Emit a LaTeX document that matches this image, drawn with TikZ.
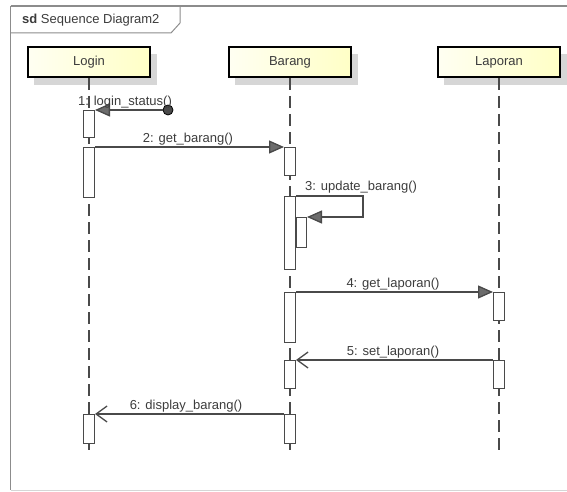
\documentclass[tikz,border=0pt]{standalone}
\usepackage{fontspec}
\setmainfont{Liberation Sans}
\usetikzlibrary{arrows.meta}
\definecolor{ln}{HTML}{4A4A4A}
\definecolor{txt}{HTML}{3C3C3C}
\definecolor{frm}{HTML}{8C8C8C}
\definecolor{shd}{HTML}{D6D6D6}
\definecolor{hdl}{HTML}{FFFFF2}
\definecolor{hdr}{HTML}{FFFFC6}
\begin{document}
\begin{tikzpicture}[x=1pt,y=-1pt,
  font=\fontsize{13}{15}\selectfont,
  head/.style={draw=black, line width=2pt, minimum width=122pt, minimum height=30pt,
    left color=hdl, right color=hdr, inner sep=0pt, text=txt},
  headshadow/.style={fill=shd, draw=none},
  act/.style={draw=ln, line width=1pt, fill=white, minimum width=11pt, inner sep=0pt, anchor=north},
  life/.style={draw=ln, line width=1.3pt, dash pattern=on 12pt off 6pt},
  msg/.style={draw=ln, line width=1.3pt},
  sync/.style={msg, -{Triangle[length=15pt,width=13pt,fill=gray!85!black]}},
  reply/.style={msg, -{Straight Barb[length=11pt,width=16pt,line width=1.3pt]}},
  lbl/.style={text=txt, inner sep=1pt, anchor=south}]
\useasboundingbox (0,0) rectangle (567,492);
% frame
\draw[frm, line width=1.5pt] (10.5,6) -- (580,6);
\draw[frm, line width=1.5pt] (10.5,6) -- (10.5,490);
\draw[shd, line width=1pt] (10.5,490) -- (580,490);
\draw[frm, line width=1pt] (180,6) -- (180,23) -- (171,33) -- (10.5,33);
\node[anchor=west, text=txt, inner sep=0pt] (title) at (22,20) {\textbf{sd} Sequence Diagram2};
% heads with shadows
\fill[headshadow] (34,54) rectangle (157,85);
\fill[headshadow] (235,54) rectangle (358,85);
\fill[headshadow] (444,54) rectangle (567,85);
\node[head] (login) at (89,62) {Login};
\node[head] (barang) at (290,62) {Barang};
\node[head] (laporan) at (499,62) {Laporan};
% lifelines
\coordinate (loginEnd) at (89,455);
\coordinate (barangEnd) at (290,455);
\coordinate (laporanEnd) at (499,455);
\draw[life] (login.south) -- (loginEnd);
\draw[life] (barang.south) -- (barangEnd);
\draw[life] (laporan.south) -- (laporanEnd);
% activations
\node[act, minimum height=27pt] (a1) at (89,110) {};
\node[act, minimum height=50pt] (a2) at (89,147) {};
\node[act, minimum height=29pt] (a6) at (89,414) {};
\node[act, minimum height=28pt] (b2) at (290,147) {};
\node[act, minimum height=73pt] (b3) at (290,196) {};
\node[act, minimum height=30pt, minimum width=10pt] (b3i) at (301.5,217) {};
\node[act, minimum height=50pt] (b4) at (290,292) {};
\node[act, minimum height=28pt] (b5) at (290,360) {};
\node[act, minimum height=29pt] (b6) at (290,414) {};
\node[act, minimum height=28pt] (l4) at (499,292) {};
\node[act, minimum height=28pt] (l5) at (499,360) {};
% messages
\node[circle, fill=ln, draw=black, line width=0.8pt, minimum size=10pt, inner sep=0pt] (found) at (168,110) {};
\draw[sync] (found.west) -- (a1.north east);
\node[lbl] (m1) at (125,109) {1: login\_status()};
\draw[sync] (a2.north east) -- (b2.north west);
\node[lbl] (m2) at (188,146) {2: get\_barang()};
\coordinate (selfc) at (363,196);
\draw[sync] (b3.north east) -- (selfc) |- (b3i.north east);
\node[lbl, anchor=south west] (m3) at (304,194) {3: update\_barang()};
\draw[sync] (b4.north east) -- (l4.north west);
\node[lbl] (m4) at (393,291) {4: get\_laporan()};
\draw[reply] (l5.north west) -- (b5.north east);
\node[lbl] (m5) at (393,359) {5: set\_laporan()};
\draw[reply] (b6.north west) -- (a6.north east);
\node[lbl] (m6) at (186,413) {6: display\_barang()};
\end{tikzpicture}
\end{document}
